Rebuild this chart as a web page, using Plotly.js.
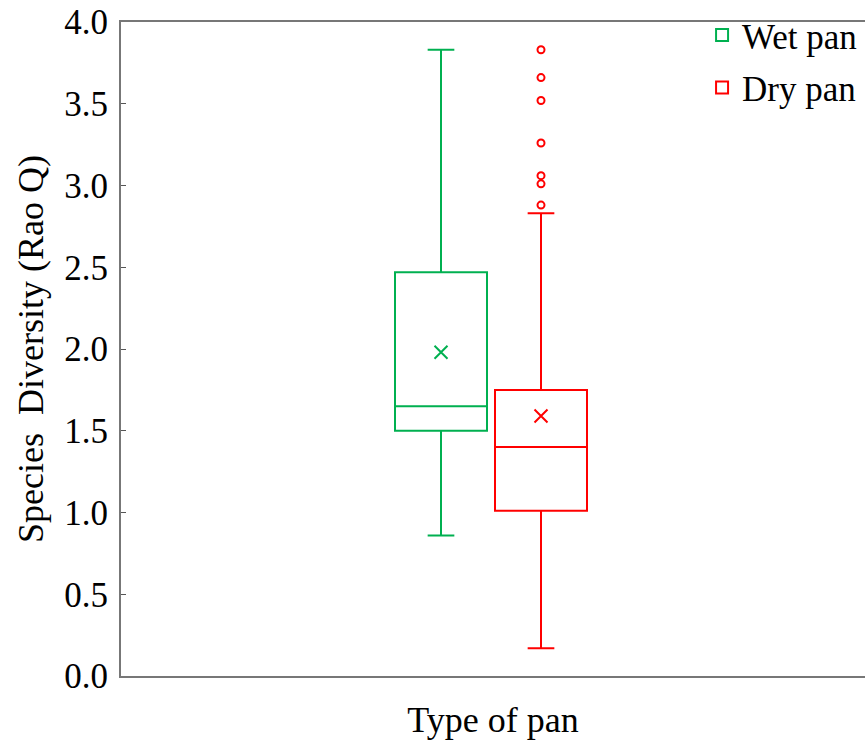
<!DOCTYPE html>
<html>
<head>
<meta charset="utf-8">
<script src="https://cdn.plot.ly/plotly-3.0.1.min.js"></script>
<style>html,body{margin:0;padding:0;background:#fff;}#chart{width:865px;height:745px;}</style>
</head>
<body>
<div id="chart"></div>
<script>
// Data
const categories = ['Wet pan', 'Dry pan'];
const positions = [0, 1];
const q1 = [1.50, 1.01];
const medians = [1.65, 1.40];
const q3 = [2.47, 1.75];
const lowerFence = [0.86, 0.17];
const upperFence = [3.83, 2.83];
const means = [1.98, 1.59];
const dryOutliers = [3.83, 3.66, 3.52, 3.26, 3.06, 3.01, 2.88];
const colors = ['#00B050', '#FF0000'];

const font = 'Liberation Serif, Times New Roman, serif';

const traces = [];
categories.forEach((name, i) => {
  traces.push({
    type: 'box',
    name: name,
    legendgroup: name,
    x: [positions[i]],
    q1: [q1[i]], median: [medians[i]], q3: [q3[i]],
    lowerfence: [lowerFence[i]], upperfence: [upperFence[i]],
    width: 0.92,
    whiskerwidth: 0.29,
    line: {color: colors[i], width: 2},
    fillcolor: 'rgba(0,0,0,0)',
    boxpoints: false,
    hoverinfo: 'skip'
  });
  traces.push({
    type: 'scatter', mode: 'markers',
    x: [positions[i]], y: [means[i]],
    marker: {symbol: 'x-thin-open', size: 13, color: colors[i], line: {color: colors[i], width: 2}},
    showlegend: false, legendgroup: name, hoverinfo: 'skip'
  });
});
traces.push({
  type: 'scatter', mode: 'markers',
  x: dryOutliers.map(() => positions[1]), y: dryOutliers,
  marker: {symbol: 'circle-open', size: 7, color: colors[1], line: {color: colors[1], width: 2}},
  showlegend: false, legendgroup: categories[1], hoverinfo: 'skip'
});

const layout = {
  width: 865, height: 745,
  margin: {l: 121, r: 0, t: 22, b: 69, autoexpand: false},
  paper_bgcolor: '#fff', plot_bgcolor: '#fff',
  font: {family: font, color: '#000', size: 35},
  showlegend: true,
  legend: {
    x: 0.781, xanchor: 'left', y: 1.025, yanchor: 'top',
    font: {family: font, size: 35, color: '#000'},
    bgcolor: 'rgba(0,0,0,0)', tracegroupgap: 4
  },
  xaxis: {
    range: [-3.2, 4.24],
    showticklabels: false, ticks: '', showgrid: false, zeroline: false,
    showline: true, mirror: true, linecolor: '#777', linewidth: 2,
    title: {text: 'Type of pan', font: {family: font, size: 36}, standoff: 30}
  },
  yaxis: {
    range: [0, 4], dtick: 0.5, tickformat: '.1f',
    showgrid: false, zeroline: false,
    showline: true, linecolor: '#777', linewidth: 2,
    ticks: 'inside', ticklen: 5, tickcolor: '#555', tickwidth: 1,
    ticklabelstandoff: 4,
    tickfont: {family: font, size: 35},
    title: {text: 'Species\u00a0 Diversity (Rao Q)', font: {family: font, size: 36}, standoff: 10}
  }
};

Plotly.newPlot('chart', traces, layout, {displayModeBar: false, staticPlot: true});
</script>
</body>
</html>
